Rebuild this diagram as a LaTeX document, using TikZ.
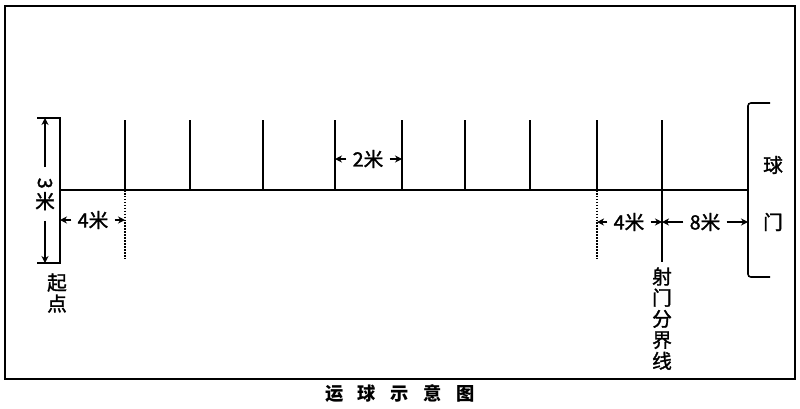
\documentclass[tikz,border=0pt]{standalone}
\usepackage{fontspec}
\newfontfamily\cjk[BoldFont={Noto Sans CJK SC}, BoldFeatures={FakeBold=1.5}]{Noto Sans CJK SC}
\newfontfamily\cjktitle{Noto Sans CJK SC}
\usetikzlibrary{arrows.meta, positioning}

\tikzset{
  dimarrow/.style={-{Stealth[length=5pt,width=5pt]}, line width=0.9pt},
  dimlabel/.style={inner sep=4pt}
}

\begin{document}
\begin{tikzpicture}[x=0.025cm, y=-0.025cm, line width=1.1pt, font=\cjk\fontsize{14}{15}\selectfont\bfseries]
\useasboundingbox (0,0) rectangle (800,408);
\draw[line width=1.5pt] (5,6) rectangle (795,379);

% start line and goal
\coordinate (start) at (60,190);
\coordinate (goal) at (748,190);
\draw (start) -- (goal);
\draw (37,118) coordinate (st) -- (60,118) -- (60,263) -- (37,263) coordinate (sb);
\draw[rounded corners=2pt] (770,103) -- (748,103) -- (748,277) -- (770,277);
\node (ball) at (773,165) {球};
\node (door) at (773,222) {门};
\node (origin) at (57,293) [align=center] {起\\点};

% poles
\foreach \n/\x in {1/125,2/190,3/263,4/335,5/402,6/465,7/530,8/597,9/662}
  \draw (\x,120) coordinate (p\n) -- (\x,190) coordinate (b\n);
\draw[densely dotted] (b1) -- ++(0,70);
\draw[densely dotted] (b8) -- ++(0,70);
\draw (b9) -- ++(0,72) coordinate (s);
\node (shoot) [below=0pt of s, align=center] {射\\门\\分\\界\\线};

% dimensions
\node (width) at (45,194) [dimlabel, align=center] {\rotatebox[origin=c]{-90}{3}\\[-2pt]米};
\draw[dimarrow, shorten <=3pt] (width) -- (st -| width);
\draw[dimarrow, shorten <=3pt] (width) -- (sb -| width);
\node (d4a) at (93,220) [dimlabel] {4米};
\draw[dimarrow] (d4a) -- (d4a -| start);
\draw[dimarrow] (d4a) -- (d4a -| b1);
\node (d2) at (368,159) [dimlabel] {2米};
\draw[dimarrow] (d2) -- (d2 -| b4);
\draw[dimarrow] (d2) -- (d2 -| b5);
\node (d4b) at (629,222) [dimlabel] {4米};
\draw[dimarrow] (d4b) -- (d4b -| b8);
\draw[dimarrow] (d4b) -- (d4b -| b9);
\node (d8) at (705,222) [dimlabel] {8米};
\draw[dimarrow] (d8) -- (d8 -| b9);
\draw[dimarrow] (d8) -- (d8 -| goal);

\node (title) at (400,394) [font=\cjktitle\fontsize{13}{15}\selectfont\bfseries]
  {运\hspace{0.8em}球\hspace{0.8em}示\hspace{0.8em}意\hspace{0.8em}图};
\end{tikzpicture}
\end{document}
